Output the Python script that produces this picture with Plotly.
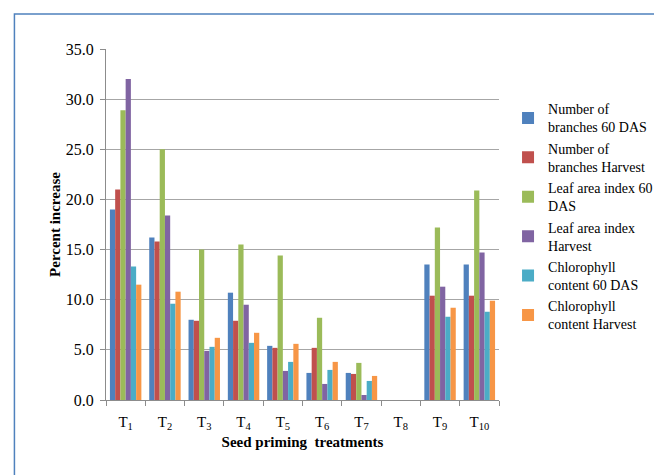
import plotly.graph_objects as go

categories = ["T<sub>1</sub>", "T<sub>2</sub>", "T<sub>3</sub>", "T<sub>4</sub>", "T<sub>5</sub>",
              "T<sub>6</sub>", "T<sub>7</sub>", "T<sub>8</sub>", "T<sub>9</sub>", "T<sub>10</sub>"]

branches_60 = [19.0, 16.2, 8.0, 10.7, 5.4, 2.7, 2.7, 0.0, 13.5, 13.5]
branches_harvest = [21.0, 15.8, 7.9, 7.9, 5.2, 5.2, 2.6, 0.0, 10.4, 10.4]
lai_60 = [28.9, 25.0, 15.0, 15.5, 14.4, 8.2, 3.7, 0.0, 17.2, 20.9]
lai_harvest = [32.0, 18.4, 4.9, 9.5, 2.9, 1.6, 0.5, 0.0, 11.3, 14.7]
chl_60 = [13.3, 9.6, 5.3, 5.7, 3.8, 3.0, 1.9, 0.0, 8.3, 8.8]
chl_harvest = [11.5, 10.8, 6.2, 6.7, 5.6, 3.8, 2.4, 0.0, 9.2, 9.9]

series_names = ["Number of<br>branches 60 DAS", "Number of<br>branches Harvest",
                "Leaf area index 60<br>DAS", "Leaf area index<br>Harvest",
                "Chlorophyll<br>content 60 DAS", "Chlorophyll<br>content Harvest"]
series_values = [branches_60, branches_harvest, lai_60, lai_harvest, chl_60, chl_harvest]
colors = ["#4F81BD", "#C0504D", "#9BBB59", "#8064A2", "#4BACC6", "#F79646"]

FONT = "Liberation Serif, Times New Roman, serif"

# page is offset by the 8px body margin; margins compensate
L, T, PW, PH = 98, 41, 412, 351
W, H = 662, 475
R = W - L - PW
B = H - T - PH

fig = go.Figure()
for i, (name, vals, col) in enumerate(zip(series_names, series_values, colors)):
    fig.add_trace(go.Bar(x=categories, y=vals, name=name, marker_color=col,
                         marker_line_width=0, legendgroup=str(i)))

fig.update_layout(
    width=W, height=H,
    margin=dict(l=L, r=R, t=T, b=B),
    paper_bgcolor="white", plot_bgcolor="white",
    barmode="group", bargap=0.2, bargroupgap=0,
    font=dict(family=FONT, size=15, color="black"),
    legend=dict(x=1.023, y=0.874, xanchor="left", yanchor="top",
                font=dict(family=FONT, size=14), tracegroupgap=0,
                itemwidth=30),
    xaxis=dict(showline=True, linecolor="#8C8C8C", linewidth=1,
               ticks="outside", tickson="boundaries", ticklen=5, tickcolor="#8C8C8C",
               tickfont=dict(family=FONT, size=15), ticklabelstandoff=8,
               title=dict(text="<b>Seed priming  treatments</b>", font=dict(family=FONT, size=15), standoff=5)),
    yaxis=dict(range=[0, 35], dtick=5, tickformat=".1f",
               showgrid=True, gridcolor="#A6A6A6", gridwidth=1,
               showline=True, linecolor="#8C8C8C", linewidth=1,
               ticks="outside", ticklen=5, tickcolor="#8C8C8C",
               tickfont=dict(family=FONT, size=16), ticklabelstandoff=3,
               zeroline=False,
               title=dict(text="<b>Percent increase</b>", font=dict(family=FONT, size=15), standoff=1)),
)

fig.add_shape(type="rect", xref="paper", yref="paper",
              x0=(2 - L) / PW, x1=(720 - L) / PW,
              y0=(T + PH - 520) / PH, y1=(T + PH - 6) / PH,
              line=dict(color="#4F81BD", width=1.5), fillcolor="rgba(0,0,0,0)", layer="below")

fig.write_html("out.html")
